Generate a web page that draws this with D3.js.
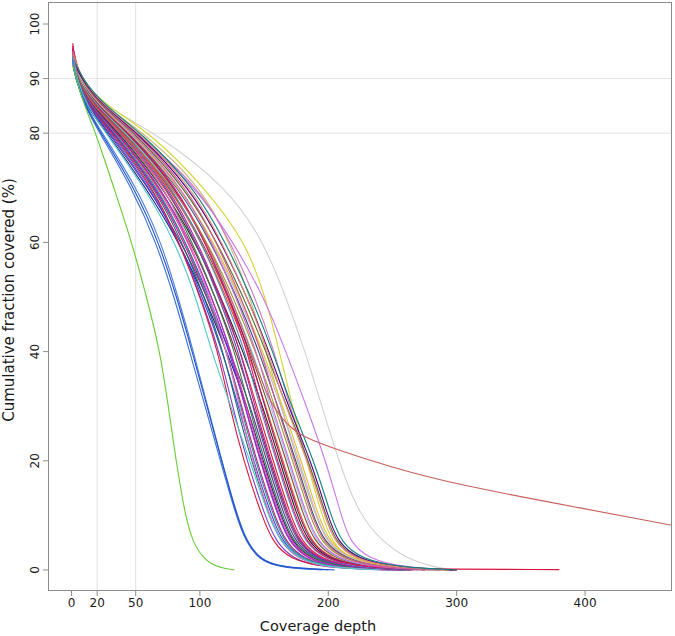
<!DOCTYPE html>
<html><head><meta charset="utf-8">
<script src="https://cdn.jsdelivr.net/npm/d3@7"></script>
<style>body{margin:0;background:#fff} text{font-family:"DejaVu Sans",Verdana,sans-serif;fill:#1a1a1a}</style>
</head><body><svg id="c" width="675" height="636"></svg>
<script>
// ---- data ----
const xTicks = [0, 20, 50, 100, 200, 300, 400];
const yTicks = [0, 20, 40, 60, 80, 90, 100];
const xGrid = [20, 50];
const yGrid = [80, 90];
const xTitle = "Coverage depth";
const yTitle = "Cumulative fraction covered (%)";

// percentage levels at which each curve's depth is read
const levelPct = [90, 85, 80, 70, 60, 50, 40, 30, 20, 10, 5, 2, 0.5, 0];

const seriesNames = [
  "gray","khaki","yellow","violet","orchidpink",
  "b1","b2","b3","b4","b5","b6","b7","b8","b9","b10","b11","b12","b13","b14","b15","b16","b17",
  "b18","b19","b20","b21","b22","b23","b24","b25","b26","b27","b28","b29","b30","b31","b32","b33","b34",
  "redtail","cyan","blueA","blueB","blueC","green"
];
const seriesColors = [
  "#d2d2d2","#c9b87a","#d4d435","#cc77ee","#cc77bb",
  "#1a1a8a","#5a2d82","#3344dd","#7b3fc6","#dc143c","#1d6b6b","#d0108c","#5533cc","#2a8f86","#ee3d8f","#9e1538","#9932cc","#222222","#2e7d4f","#f06ec8","#e0202a","#4a5aa8",
  "#b0209f","#e8501c","#8b4a2b","#4a8ac8","#8fc3ea","#9a9a30","#8b1a6b","#e0186a","#2f4f6f","#c3aee8","#e0c020","#cc66cc","#556b2f","#d05a8a","#4b0082","#e8907a","#108080",
  "#c8605a","#50c8c8","#3b6fd6","#4a7fe0","#2050c8","#66cc33"
];
// coverage (%) at depth 1
const startPct = [
  93.5, 95, 95, 95, 95.5,
  93, 94, 93.5, 95, 96.5, 94.5, 95.5, 94, 93.5, 95, 95.5, 94.5, 94, 93.5, 95, 96, 93,
  95, 94.5, 94, 93.5, 93, 94.5, 95.5, 96, 94, 93.5, 94.5, 95, 94, 95, 93.5, 94.5, 94,
  94.5, 94, 93.5, 93, 92.5, 92.5
];
// depth at which each curve reaches levelPct
const depthAtLevel = [
  [5, 25, 66, 122, 150, 167, 182, 195, 208, 224, 243, 262, 282, 300],
  [6, 25, 57, 102, 123, 139, 152, 163, 176, 190, 199, 214, 240, 288],
  [6, 27, 62, 104, 136, 151, 162, 172, 183, 195, 203, 216, 240, 288],
  [6, 22, 50, 98, 126, 150, 167, 183, 198, 210, 217, 232, 258, 298],
  [6, 23, 52, 100, 124, 143, 158, 170, 184, 197, 205, 220, 248, 295],
  [3, 11, 28, 58, 84, 103.5, 121, 137, 149, 163, 172, 186, 209.5, 258],
  [3.2, 11.8, 29.4, 59.9, 86, 105.6, 123.3, 139.5, 151.9, 165.5, 174.5, 188.9, 212.8, 261],
  [3.4, 12.2, 30.2, 61, 84.1, 102, 117.7, 130, 141.7, 155.5, 164.5, 178.1, 199.8, 249],
  [3.6, 12.8, 31.2, 62.6, 83.9, 100.7, 115.3, 125.4, 136.6, 150.5, 159.5, 172.7, 193.3, 243],
  [3.8, 13.3, 32, 63.7, 84, 100.2, 114.3, 123, 134, 148, 157, 170, 195, null],
  [3.9, 13.7, 32.9, 64.8, 86.4, 103.5, 118.3, 128.6, 140.1, 154, 163, 176.5, 197.8, 247],
  [4, 14, 33.4, 65.6, 88, 105.6, 121, 132.4, 144.2, 158, 167, 180.8, 203, 252],
  [4.1, 14.3, 33.9, 66.4, 89.3, 107.3, 123.1, 135.2, 147.3, 161, 170, 184, 206.9, 256],
  [4.2, 14.8, 34.8, 67.5, 89.1, 106.2, 121.1, 131.5, 143.2, 157, 166, 179.7, 201.7, 251],
  [4.4, 15.2, 35.6, 68.6, 91.2, 109, 124.6, 136.2, 148.3, 162, 171, 185.1, 208.2, 257],
  [4.5, 15.5, 36.1, 69.4, 93.3, 112, 128.5, 141.8, 154.4, 168, 177, 191.6, 216, 264],
  [4.6, 15.8, 36.6, 70.2, 91.9, 109.3, 124.3, 134.8, 146.8, 160.5, 169.5, 183.5, 206.3, 255],
  [4.8, 16.2, 37.5, 71.3, 96.7, 116.4, 133.7, 148.9, 162.1, 175.5, 184.5, 199.7, 225.8, 300],
  [4.9, 16.7, 38.3, 72.4, 94.4, 112, 127.3, 138, 150.3, 164, 173, 187.3, 210.8, 259],
  [5, 17, 38.8, 73.2, 92, 107.8, 121, 130.7, 141.1, 154, 163, 176.4, 196.5, 246],
  [5.1, 17.3, 39.3, 74, 97.2, 115.7, 131.8, 144.2, 157, 170.5, 179.5, 194.3, 219.3, 267],
  [5.2, 17.8, 40.2, 75.1, 97.1, 114.8, 130.1, 140.9, 153.4, 167, 176, 190.5, 214.7, 263],
  [5.4, 18.2, 41, 76.2, 98.4, 116.4, 131.8, 142.7, 155.4, 169, 178, 192.7, 217.3, 265],
  [5.5, 18.5, 41.5, 77, 101.3, 120.7, 137.5, 151.2, 164.6, 178, 187, 202.4, 229, 276],
  [5.6, 18.8, 42, 77.8, 102.5, 122.2, 139.3, 153.6, 167.2, 180.5, 189.5, 205.1, 232.3, 279],
  [5.8, 19.2, 42.8, 78.9, 101.3, 119.6, 135.3, 146.5, 159.5, 173, 182, 197, 222.5, 270],
  [5.9, 19.7, 43.7, 80, 104.5, 124.1, 141.1, 155, 168.7, 182, 191, 206.7, 234.2, 281],
  [6, 20, 44.2, 80.8, 106, 126, 143.5, 158.3, 172.3, 185.5, 194.5, 210.5, 238.8, 285],
  [6.1, 20.3, 44.7, 81.6, 104.3, 122.8, 138.7, 150.3, 163.6, 177, 186, 201.3, 227.7, 275],
  [6.2, 20.8, 45.6, 82.7, 104.3, 122.2, 137.3, 147.4, 160.5, 174, 183, 198.1, 223.8, 300],
  [6.4, 21.2, 46.4, 83.8, 108.8, 128.8, 146.2, 160.6, 174.8, 188, 197, 213.2, 242, 288],
  [6.5, 21.5, 46.9, 84.6, 110, 130.3, 148, 163, 177.4, 190.5, 199.5, 215.9, 245.3, 291],
  [6.6, 21.8, 47.4, 85.4, 110.9, 131.4, 149.2, 164.4, 178.9, 192, 201, 217.5, 247.2, 293],
  [6.8, 22.2, 48.2, 86.5, 109.3, 128.2, 144.3, 155.9, 169.7, 183, 192, 207.8, 235.5, 282],
  [7, 23, 49.6, 88.4, 113.6, 134, 151.6, 167.2, 184.9, 198, 206, 221.7, 250.8, 295],
  [7.2, 23.8, 51, 90.3, 113.1, 132, 148.1, 159.7, 173.8, 187, 196, 212.1, 240.7, 287],
  [7.5, 24.5, 52.3, 92.2, 116.7, 136.8, 154, 168.7, 186.5, 199.5, 207.5, 223.3, 252.8, 297],
  [7.8, 25.2, 53.6, 94.1, 117.3, 136.8, 153.3, 166.3, 183.9, 197, 205, 220.6, 249.5, 294],
  [8, 26, 55, 96, 120, 140, 157, 171, 189, 202, 210, 226, 256, 300],
  [5, 16, 40, 80, 106, 124, 140, 155, null, null, null, null, null, null],
  [4, 12, 27, 57, 81, 97, 109, 124, 139, 153, 163, 178, 198, 240],
  [3.5, 10, 22, 47, 66, 80, 92, 104, 116, 128, 136, 146, 160, 195],
  [3.5, 11, 24, 51, 70, 83, 95, 106, 117, 129, 137, 147, 162, 200],
  [3.2, 10.5, 23, 49, 68, 82, 94, 105.5, 117, 128.5, 136.5, 146.5, 161, 205],
  [3.5, 10, 19, 33, 47, 58.5, 69, 75.4, 81.4, 88.5, 94.6, 103, 113, 127]
];
// extra [depth, %] points for curves with long tails
const tailB5 = [[250, 0.2], [380, 0.06]];
const tailRed = [[170, 26.2], [180, 24.4], [207, 22], [248, 18.9], [300, 15.6], [400, 11.2], [470, 8.1]];

// ---- layout ----
const L = 48, R = 672, T = 2, B = 591;
const svg = d3.select("#c");
const x = d3.scaleLinear().domain([-18.3, 467.7]).range([L, R]);
const y = d3.scaleLinear().domain([-3.85, 104.03]).range([B, T]);
const frameColor = "#8c8c8c";

svg.append("defs").append("clipPath").attr("id", "plotclip")
  .append("rect").attr("x", L).attr("y", T).attr("width", R - L).attr("height", B - T);

// grid
const g = svg.append("g");
g.selectAll("line.vg").data(xGrid).join("line")
  .attr("x1", d => x(d)).attr("x2", d => x(d)).attr("y1", T).attr("y2", B)
  .attr("stroke", "#e2e2e2").attr("stroke-width", 1);
g.selectAll("line.hg").data(yGrid).join("line")
  .attr("y1", d => y(d)).attr("y2", d => y(d)).attr("x1", L).attr("x2", R)
  .attr("stroke", "#e2e2e2").attr("stroke-width", 1);

// series
const series = seriesNames.map((name, i) => {
  const pts = [[1, startPct[i]]];
  levelPct.forEach((p, k) => { const d = depthAtLevel[i][k]; if (d != null) pts.push([d, p]); });
  if (name === "b5") pts.push(...tailB5);
  if (name === "redtail") pts.push(...tailRed);
  pts.sort((a, b) => a[0] - b[0]);
  return { name, color: seriesColors[i], pts };
});
const line = d3.line().x(d => x(d[0])).y(d => y(d[1])).curve(d3.curveBasis);
svg.append("g").attr("clip-path", "url(#plotclip)")
  .selectAll("path").data(series).join("path")
  .attr("d", d => line(d.pts))
  .attr("fill", "none")
  .attr("stroke", d => d.color)
  .attr("stroke-width", 1.1);

// frame
svg.append("rect").attr("x", L + 0.5).attr("y", T + 0.5).attr("width", R - L - 1).attr("height", B - T - 1)
  .attr("fill", "none").attr("stroke", frameColor).attr("stroke-width", 1);

// x axis
const xa = svg.append("g");
xa.selectAll("line").data(xTicks).join("line")
  .attr("x1", d => x(d)).attr("x2", d => x(d)).attr("y1", B).attr("y2", B + 5)
  .attr("stroke", frameColor);
xa.selectAll("text").data(xTicks).join("text")
  .attr("x", d => x(d)).attr("y", 607).attr("text-anchor", "middle")
  .attr("font-size", 12).text(d => d);

// y axis
const ya = svg.append("g");
ya.selectAll("line").data(yTicks).join("line")
  .attr("x1", L - 5).attr("x2", L).attr("y1", d => y(d)).attr("y2", d => y(d))
  .attr("stroke", frameColor);
ya.selectAll("text").data(yTicks).join("text")
  .attr("transform", d => `translate(39,${y(d)}) rotate(-90)`)
  .attr("text-anchor", "middle").attr("font-size", 12).text(d => d);

// titles
svg.append("text").attr("x", 318).attr("y", 631).attr("text-anchor", "middle")
  .attr("font-size", 14.5).text(xTitle);
svg.append("text").attr("transform", "translate(14,300) rotate(-90)")
  .attr("text-anchor", "middle").attr("font-size", 15).text(yTitle);
</script></body></html>
